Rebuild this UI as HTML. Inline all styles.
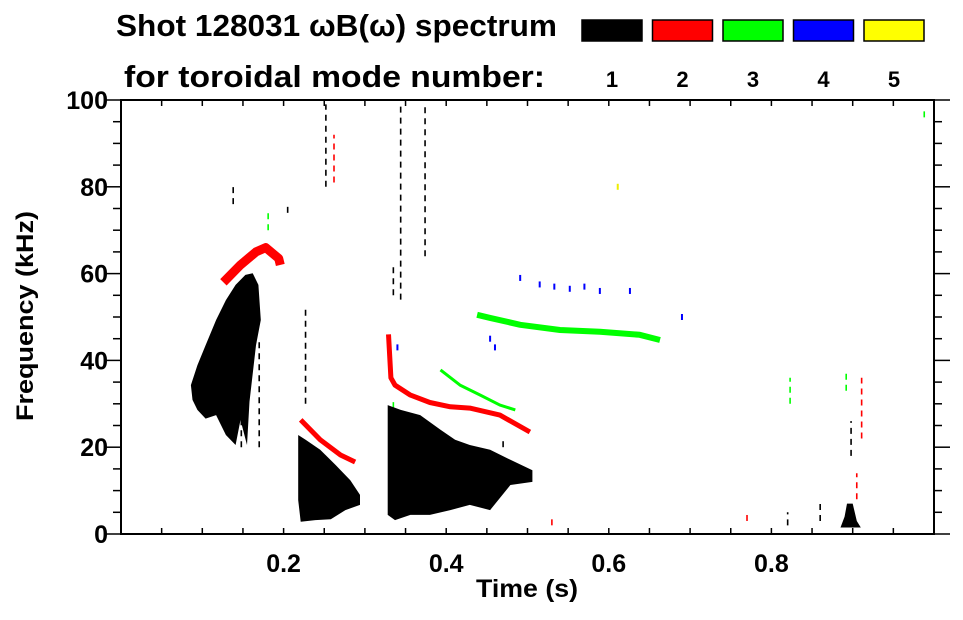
<!DOCTYPE html>
<html><head><meta charset="utf-8">
<style>
html,body{margin:0;padding:0;background:#fff;}
body{width:963px;height:615px;overflow:hidden;font-family:"Liberation Sans",sans-serif;}
text{font-family:"Liberation Sans",sans-serif;font-weight:bold;}
</style></head>
<body>
<svg id="chart" width="963" height="615" xmlns="http://www.w3.org/2000/svg">
  <text x="116" y="36" font-size="31" textLength="441" lengthAdjust="spacingAndGlyphs">Shot 128031 ωB(ω) spectrum</text>
  <text x="124" y="87" font-size="31" textLength="421" lengthAdjust="spacingAndGlyphs">for toroidal mode number:</text>
  <g id="legend"></g>
  <g id="marks"></g>
  <g id="axes"></g>
  <text x="527" y="597" font-size="25" text-anchor="middle" textLength="102" lengthAdjust="spacingAndGlyphs">Time (s)</text>
  <text transform="translate(33,316) rotate(-90)" font-size="24" text-anchor="middle" textLength="210" lengthAdjust="spacingAndGlyphs">Frequency (kHz)</text>
</svg>
<script>
// ---- data ----
const modeLabels = ["1","2","3","4","5"];
const modeColors = ["#000000","#ff0000","#00ff00","#0000ff","#ffff00"];
const xTicks = [0.2,0.4,0.6,0.8];
const yTicks = [0,20,40,60,80,100];
// black (n=1) blobs: polygons of [t,f]
const blackBlobA = [[0.086,34.3],[0.094,38.9],[0.104,43.5],[0.117,49.3],[0.129,53.9],[0.141,57.4],[0.153,59.7],[0.162,60.1],[0.169,57.4],[0.172,49.3],[0.166,43.5],[0.158,30.5],[0.155,20.5],[0.147,26.3],[0.141,20.5],[0.129,22.8],[0.117,27.4],[0.104,26.6],[0.094,28.6],[0.088,30.9]];
const blackBlobB = [[0.218,22.8],[0.227,21.7],[0.245,19.4],[0.264,15.9],[0.282,12.4],[0.294,9.0],[0.294,6.7],[0.276,5.5],[0.258,3.4],[0.239,3.2],[0.221,2.8],[0.218,7.8]];
const blackBlobC = [[0.328,29.7],[0.344,28.6],[0.368,27.4],[0.393,24.0],[0.411,21.7],[0.429,20.5],[0.454,19.4],[0.479,17.1],[0.506,14.7],[0.506,12.0],[0.479,11.3],[0.454,5.5],[0.429,6.7],[0.405,5.5],[0.380,4.4],[0.356,4.4],[0.337,3.2],[0.328,4.4]];
const blackBlobD = [[0.893,7.0],[0.9,7.0],[0.905,3.0],[0.91,1.5],[0.885,1.5],[0.89,4.0]];
// sparse vertical streaks: [t, fLo, fHi]
const blackStreaks = [[0.344,54,99],[0.374,64,99],[0.252,80,99],[0.227,30,52],[0.138,76,81],[0.205,74,76],[0.335,55,62],[0.47,20,22],[0.898,18,26],[0.82,2,5],[0.86,3,8],[0.148,20,40],[0.17,20,45]];
const redStreaks = [[0.262,81,92],[0.911,22,36],[0.905,8,14],[0.53,2,4],[0.77,3,5]];
const greenStreaks = [[0.181,70,74],[0.823,30,36],[0.892,33,38],[0.988,96,98],[0.335,29,31]];
// mode tracks: [t,f]
const red1 = [[0.126,58],[0.147,62],[0.166,65],[0.178,66],[0.194,63.5],[0.196,62]];
const red2 = [[0.221,26.3],[0.245,21.7],[0.27,18.2],[0.288,16.6]];
const red3 = [[0.329,46],[0.332,36],[0.337,34.3],[0.356,32.0],[0.380,30.3],[0.405,29.3],[0.429,29.0],[0.466,27.4],[0.503,23.5]];
const green1 = [[0.438,50.5],[0.454,49.8],[0.491,48.2],[0.540,47.0],[0.589,46.6],[0.638,45.9],[0.663,44.7]];
const green2 = [[0.393,37.8],[0.417,34.3],[0.442,32.0],[0.466,29.7],[0.485,28.6]];
const blueDots = [[0.491,59],[0.515,57.5],[0.533,57],[0.552,56.5],[0.57,57],[0.589,56],[0.626,56],[0.454,45],[0.46,43],[0.69,50],[0.34,43]];
const yellowDots = [[0.611,80]];

// ---- axes geometry ----
const L=121, R=934, T=100, B=534;
const X = t => L + t*(R-L);
const Y = f => B - f/100*(B-T);
const NS="http://www.w3.org/2000/svg";
function mk(tag, parent){ const e=document.createElementNS(NS,tag); parent.appendChild(e); return e; }
const marks=document.getElementById('marks'), axes=document.getElementById('axes'), legend=document.getElementById('legend');

function poly(pts,color,name){
  const p=mk('polygon',marks);
  p.setAttribute('points',pts.map(d=>X(d[0]).toFixed(1)+','+Y(d[1]).toFixed(1)).join(' '));
  p.setAttribute('fill',color);
  
  
}
function track(pts,color,w,name){
  const p=mk('polyline',marks);
  p.setAttribute('points',pts.map(d=>X(d[0]).toFixed(1)+','+Y(d[1]).toFixed(1)).join(' '));
  p.setAttribute('fill','none');p.setAttribute('stroke',color);p.setAttribute('stroke-width',w);
  p.setAttribute('stroke-linejoin','round');
  
  
}
function streaks(arr,color,name){
  arr.forEach(s=>{
    const l=mk('line',marks);
    l.setAttribute('x1',X(s[0]));l.setAttribute('x2',X(s[0]));
    l.setAttribute('y1',Y(s[1]));l.setAttribute('y2',Y(s[2]));
    l.setAttribute('stroke',color);l.setAttribute('stroke-width',1.6);
    l.setAttribute('stroke-dasharray','6 5');
    
    
  });
}
function dots(arr,color,name){
  arr.forEach(s=>{
    const r=mk('rect',marks);
    r.setAttribute('x',X(s[0])-1);r.setAttribute('y',Y(s[1])-3);
    r.setAttribute('width',2);r.setAttribute('height',6);r.setAttribute('fill',color);
    
    
  });
}
streaks(blackStreaks,'#000','mode1-streak');
streaks(redStreaks,'#f00','mode2-streak');
streaks(greenStreaks,'#0f0','mode3-streak');
poly(blackBlobA,'#000','mode1-blob-early');
poly(blackBlobB,'#000','mode1-blob-mid');
poly(blackBlobC,'#000','mode1-blob-late');
poly(blackBlobD,'#000','mode1-blob-end');
track(red1,'#f00',9,'mode2-track-early');
track(red2,'#f00',5,'mode2-track-mid');
track(red3,'#f00',5,'mode2-track-late');
track(green1,'#0f0',6,'mode3-track-upper');
track(green2,'#0f0',3,'mode3-track-lower');
dots(blueDots,'#00f','mode4-dot');
dots(yellowDots,'#ee0','mode5-dot');

// frame
const fr=mk('rect',axes);
fr.setAttribute('x',L);fr.setAttribute('y',T);fr.setAttribute('width',R-L);fr.setAttribute('height',B-T);
fr.setAttribute('fill','none');fr.setAttribute('stroke','#000');fr.setAttribute('stroke-width',2);


function line(x1,y1,x2,y2,name){
  const l=mk('line',axes);
  l.setAttribute('x1',x1);l.setAttribute('y1',y1);l.setAttribute('x2',x2);l.setAttribute('y2',y2);
  l.setAttribute('stroke','#000');l.setAttribute('stroke-width',1.5);
  
  
}
for(let i=1;i<20;i++){ const x=X(i*0.05); line(x,B,x,B-6,'x-tick'); line(x,T,x,T+6,'x-tick-top'); }
for(let i=0;i<=20;i++){ const y=Y(i*5); const len=(i%4===0)?16:8; line(L,y,L-len,y,'y-tick'); line(R,y,R+len,y,'y-tick-right'); }
xTicks.forEach(v=>{
  const t=mk('text',axes); t.textContent=v.toFixed(1);
  t.setAttribute('x',X(v));t.setAttribute('y',572);t.setAttribute('font-size',25);t.setAttribute('text-anchor','middle');
  
  
});
yTicks.forEach(v=>{
  const t=mk('text',axes); t.textContent=v;
  t.setAttribute('x',108);t.setAttribute('y',Y(v)+9);t.setAttribute('font-size',25);t.setAttribute('text-anchor','end');
  
  
});
// legend
modeLabels.forEach((m,i)=>{
  const x=582+i*70.5;
  const r=mk('rect',legend);
  r.setAttribute('x',x);r.setAttribute('y',20);r.setAttribute('width',60);r.setAttribute('height',21);
  r.setAttribute('fill',modeColors[i]);r.setAttribute('stroke','#000');r.setAttribute('stroke-width',1.5);
  
  
  const t=mk('text',legend); t.textContent=m;
  t.setAttribute('x',x+30);t.setAttribute('y',87);t.setAttribute('font-size',22);t.setAttribute('text-anchor','middle');
  
  
});
</script>
</body></html>
